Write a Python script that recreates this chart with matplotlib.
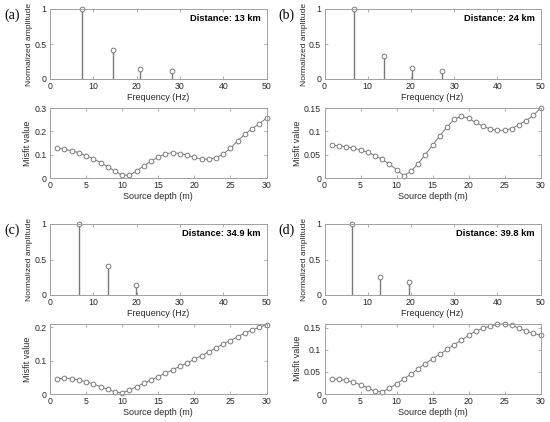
import matplotlib
matplotlib.use("Agg")
import matplotlib.pyplot as plt
import numpy as np

plt.rcParams['font.family'] = ['Liberation Sans', 'DejaVu Sans']

panel_labels = ["(a)", "(b)", "(c)", "(d)"]
distances = ["Distance: 13 km", "Distance: 24 km", "Distance: 34.9 km", "Distance: 39.8 km"]

freq_a = [7.3, 14.6, 20.9, 28.2]
amp_a = [1.0, 0.41, 0.14, 0.12]
freq_b = [6.9, 13.7, 20.2, 27.3]
amp_b = [1.0, 0.33, 0.16, 0.12]
freq_c = [6.7, 13.3, 19.9]
amp_c = [1.0, 0.41, 0.145]
freq_d = [6.3, 12.8, 19.6]
amp_d = [1.0, 0.25, 0.18]

depth = list(range(1, 31))
misfit_a = [0.128, 0.123, 0.117, 0.108, 0.096, 0.082, 0.066, 0.048, 0.030, 0.012,
            0.012, 0.030, 0.052, 0.072, 0.090, 0.103, 0.109, 0.104, 0.099, 0.088,
            0.081, 0.080, 0.087, 0.103, 0.127, 0.160, 0.187, 0.212, 0.232, 0.257]
misfit_b = [0.070, 0.069, 0.067, 0.064, 0.060, 0.055, 0.048, 0.040, 0.030, 0.018,
            0.005, 0.014, 0.031, 0.050, 0.070, 0.090, 0.109, 0.126, 0.132, 0.128,
            0.119, 0.111, 0.105, 0.102, 0.102, 0.106, 0.114, 0.123, 0.134, 0.150]
misfit_c = [0.046, 0.047, 0.046, 0.042, 0.037, 0.030, 0.022, 0.014, 0.006, 0.003,
            0.012, 0.022, 0.032, 0.042, 0.052, 0.062, 0.073, 0.083, 0.093, 0.104,
            0.115, 0.127, 0.138, 0.150, 0.160, 0.172, 0.183, 0.192, 0.200, 0.208]
misfit_d = [0.035, 0.033, 0.031, 0.027, 0.021, 0.014, 0.006, 0.005, 0.013, 0.023,
            0.034, 0.045, 0.057, 0.069, 0.080, 0.090, 0.101, 0.112, 0.122, 0.133,
            0.143, 0.149, 0.154, 0.158, 0.159, 0.157, 0.149, 0.143, 0.138, 0.133]

freqs = [freq_a, freq_b, freq_c, freq_d]
amps = [amp_a, amp_b, amp_c, amp_d]
misfits = [misfit_a, misfit_b, misfit_c, misfit_d]
misfit_ylim = [0.3, 0.15, 0.21, 0.16]
misfit_yticks = [[0, 0.1, 0.2, 0.3], [0, 0.05, 0.1, 0.15], [0, 0.1, 0.2], [0, 0.05, 0.1, 0.15]]
misfit_yticklabels = [["0", "0.1", "0.2", "0.3"], ["0", "0.05", "0.1", "0.15"],
                      ["0", "0.1", "0.2"], ["0", "0.05", "0.1", "0.15"]]

W, H = 550, 422
fig = plt.figure(figsize=(W / 100, H / 100), dpi=100)

GRAY = '#7a7a7a'
AX = '#a0a0a0'
TXT = '#2a2a2a'
TICK_FS = 6.3
LAB_FS = 6.5

lefts = [50, 324.5, 50, 324.5]
rights = [266.5, 540.5, 266.5, 540.5]
top_boxes = [(9, 79), (9, 79), (224, 295), (224, 295)]
bot_boxes = [(108, 178), (108, 178), (324, 394), (323.5, 394)]


def px_axes(l, r, t, b):
    return fig.add_axes([l / W, 1 - b / H, (r - l) / W, (b - t) / H])


def style(ax):
    for s in ax.spines.values():
        s.set_color(AX)
        s.set_linewidth(0.7)
    ax.tick_params(direction='in', length=2.5, width=0.6, color=AX,
                   labelsize=TICK_FS, labelcolor=TXT, pad=2.5, top=True, right=True)


for i in range(4):
    l, r = lefts[i], rights[i]
    t, b = top_boxes[i]
    ax = px_axes(l, r, t, b)
    ml, sl, bl = ax.stem(freqs[i], amps[i], basefmt=' ')
    plt.setp(sl, color=GRAY, linewidth=1.0)
    plt.setp(ml, markerfacecolor='white', markeredgecolor=GRAY, markersize=3.4, markeredgewidth=0.7)
    ml.set_clip_on(False)
    ax.set_xlim(0, 50)
    ax.set_ylim(0, 1)
    ax.set_xticks([0, 10, 20, 30, 40, 50])
    ax.set_yticks([0, 0.5, 1])
    ax.set_yticklabels(["0", "0.5", "1"])
    style(ax)
    ax.set_xlabel("Frequency (Hz)", fontsize=LAB_FS, color=TXT, labelpad=1)
    ax.set_ylabel("Normalized amplitude", fontsize=6.1, color=TXT, labelpad=1)
    ax.text(0.972, 0.86, distances[i], transform=ax.transAxes, ha='right', va='center',
            fontsize=6.7, fontweight='bold', color='black')
    fig.text((l - 46) / W, 1 - (t + 6) / H, panel_labels[i], ha='left', va='center',
             fontsize=10, family='Liberation Serif', color='black')

    t2, b2 = bot_boxes[i]
    ax2 = px_axes(l, r, t2, b2)
    ax2.plot(depth, misfits[i], '-o', color=GRAY, linewidth=0.7, markersize=3.4,
             markerfacecolor='white', markeredgecolor=GRAY, markeredgewidth=0.7)
    ax2.set_xlim(0, 30)
    ax2.set_ylim(0, misfit_ylim[i])
    ax2.set_xticks([0, 5, 10, 15, 20, 25, 30])
    ax2.set_yticks(misfit_yticks[i])
    ax2.set_yticklabels(misfit_yticklabels[i])
    style(ax2)
    ax2.set_xlabel("Source depth (m)", fontsize=LAB_FS, color=TXT, labelpad=1)
    ax2.set_ylabel("Misfit value", fontsize=LAB_FS, color=TXT, labelpad=1.5)
    for ln in ax2.lines:
        ln.set_clip_on(False)

fig.savefig("out.png", dpi=100)
